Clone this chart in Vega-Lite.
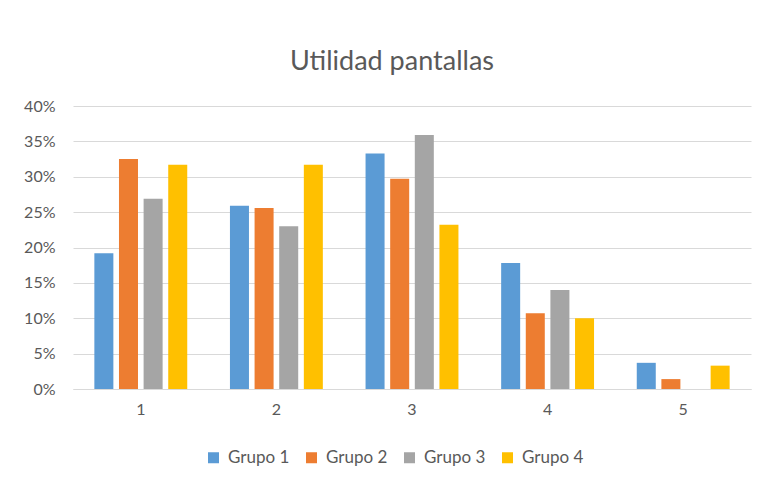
{
  "$schema": "https://vega.github.io/schema/vega-lite/v6.json",
  "width": 678,
  "height": 283,
  "autosize": {"type": "none"},
  "padding": {"left": 73, "top": 106, "right": 14, "bottom": 95},
  "background": "white",
  "config": {
    "font": "Lato",
    "view": {"stroke": null}
  },
  "title": {
    "text": "Utilidad pantallas",
    "fontSize": 27,
    "font": "Lato",
    "fontWeight": "normal",
    "color": "#595959",
    "anchor": "middle",
    "dx": -20,
    "offset": 22
  },
  "data": {
    "values": [
      {"cat": "1", "grupo": "Grupo 1", "value": 0.192},
      {"cat": "1", "grupo": "Grupo 2", "value": 0.325},
      {"cat": "1", "grupo": "Grupo 3", "value": 0.269},
      {"cat": "1", "grupo": "Grupo 4", "value": 0.317},
      {"cat": "2", "grupo": "Grupo 1", "value": 0.259},
      {"cat": "2", "grupo": "Grupo 2", "value": 0.256},
      {"cat": "2", "grupo": "Grupo 3", "value": 0.230},
      {"cat": "2", "grupo": "Grupo 4", "value": 0.317},
      {"cat": "3", "grupo": "Grupo 1", "value": 0.333},
      {"cat": "3", "grupo": "Grupo 2", "value": 0.297},
      {"cat": "3", "grupo": "Grupo 3", "value": 0.359},
      {"cat": "3", "grupo": "Grupo 4", "value": 0.232},
      {"cat": "4", "grupo": "Grupo 1", "value": 0.178},
      {"cat": "4", "grupo": "Grupo 2", "value": 0.107},
      {"cat": "4", "grupo": "Grupo 3", "value": 0.140},
      {"cat": "4", "grupo": "Grupo 4", "value": 0.100},
      {"cat": "5", "grupo": "Grupo 1", "value": 0.037},
      {"cat": "5", "grupo": "Grupo 2", "value": 0.014},
      {"cat": "5", "grupo": "Grupo 3", "value": 0.0},
      {"cat": "5", "grupo": "Grupo 4", "value": 0.033}
    ]
  },
  "mark": {"type": "bar"},
  "encoding": {
    "x": {
      "field": "cat",
      "type": "nominal",
      "title": null,
      "scale": {"paddingInner": 0.315, "paddingOuter": 0.1575},
      "axis": {
        "labelAngle": 0,
        "labelFontSize": 16,
        "labelColor": "#595959",
        "labelPadding": 12,
        "ticks": false,
        "domainColor": "#d9d9d9",
        "domainWidth": 1
      }
    },
    "xOffset": {
      "field": "grupo",
      "type": "nominal",
      "scale": {"paddingInner": 0.228, "paddingOuter": 0}
    },
    "y": {
      "field": "value",
      "type": "quantitative",
      "title": null,
      "scale": {"domain": [0, 0.4], "nice": false},
      "axis": {
        "values": [0, 0.05, 0.1, 0.15, 0.2, 0.25, 0.3, 0.35, 0.4],
        "format": ".0%",
        "labelFontSize": 16,
        "labelColor": "#595959",
        "labelPadding": 18,
        "ticks": false,
        "domain": false,
        "gridColor": "#d9d9d9",
        "gridWidth": 1
      }
    },
    "color": {
      "field": "grupo",
      "type": "nominal",
      "title": null,
      "scale": {
        "domain": ["Grupo 1", "Grupo 2", "Grupo 3", "Grupo 4"],
        "range": ["#5B9BD5", "#ED7D31", "#A5A5A5", "#FFC000"]
      },
      "legend": {
        "orient": "none",
        "direction": "horizontal",
        "legendX": 132,
        "legendY": 343,
        "symbolType": "square",
        "symbolSize": 121,
        "symbolStrokeWidth": 0,
        "labelFontSize": 17,
        "labelColor": "#595959",
        "columnPadding": 13,
        "labelOffset": 6
      }
    }
  }
}
